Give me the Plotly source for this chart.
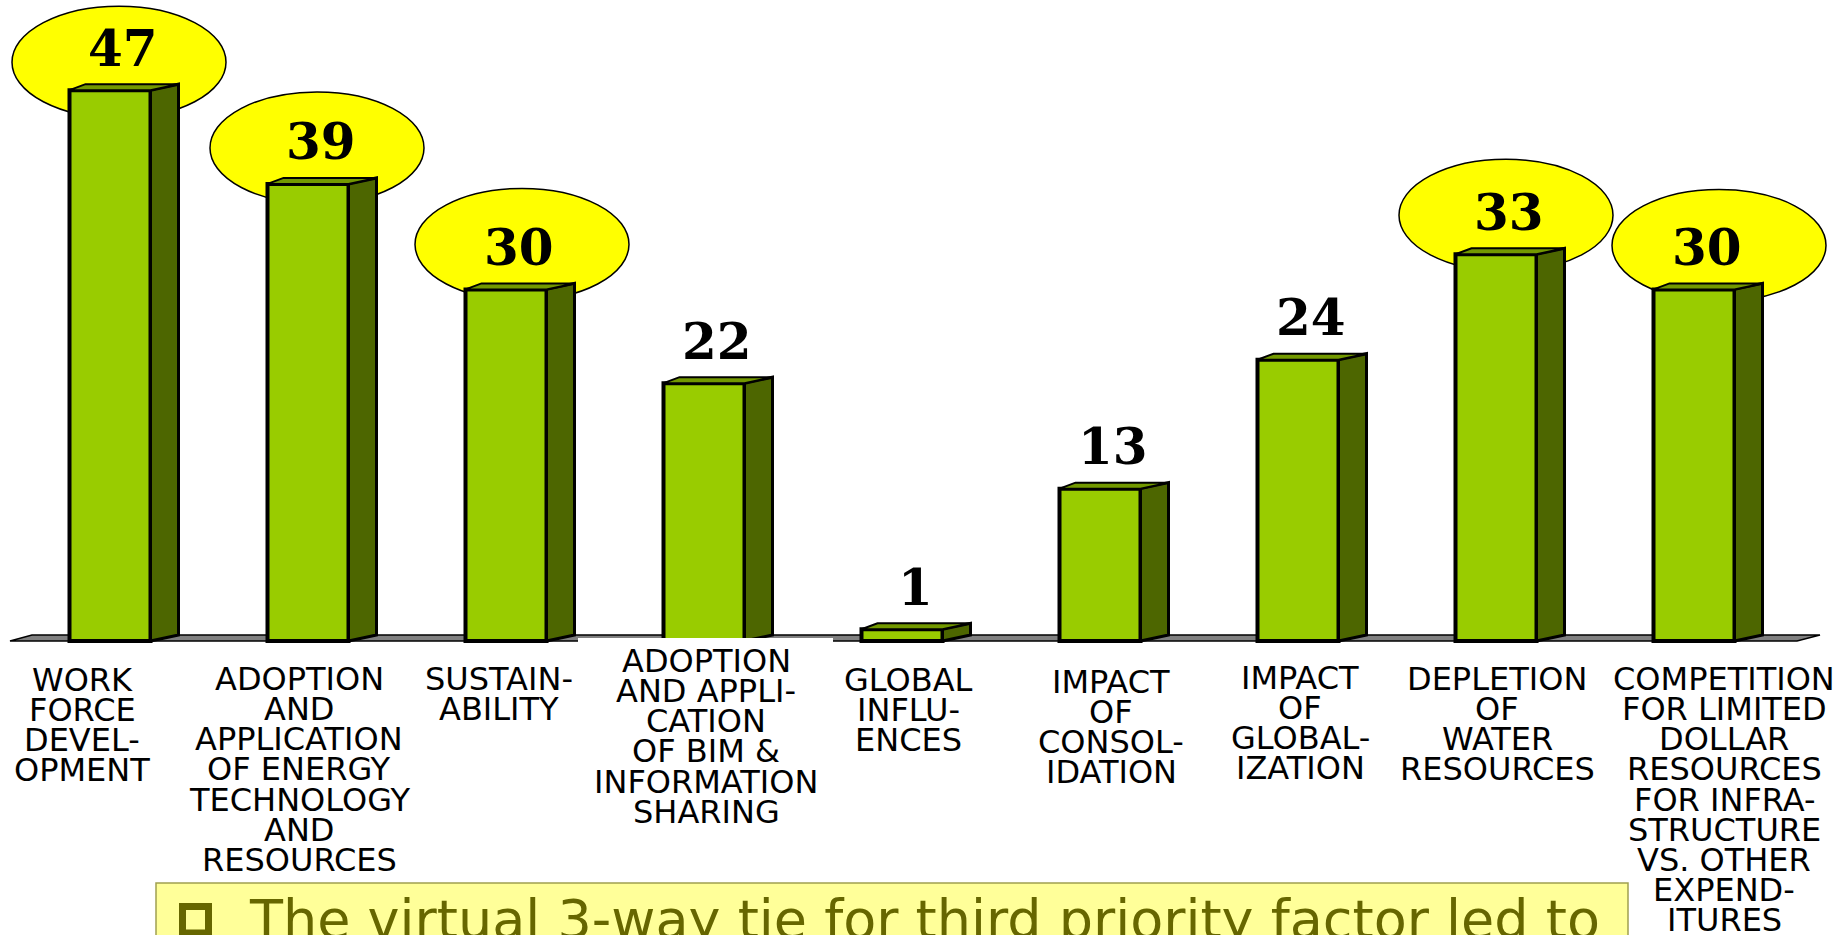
import plotly.graph_objects as go

# ---- data -----------------------------------------------------------------
categories = [
    "WORK\nFORCE\nDEVEL-\nOPMENT",
    "ADOPTION\nAND\nAPPLICATION\nOF ENERGY\nTECHNOLOGY\nAND\nRESOURCES",
    "SUSTAIN-\nABILITY",
    "ADOPTION\nAND APPLI-\nCATION\nOF BIM &\nINFORMATION\nSHARING",
    "GLOBAL\nINFLU-\nENCES",
    "IMPACT\nOF\nCONSOL-\nIDATION",
    "IMPACT\nOF\nGLOBAL-\nIZATION",
    "DEPLETION\nOF\nWATER\nRESOURCES",
    "COMPETITION\nFOR LIMITED\nDOLLAR\nRESOURCES\nFOR INFRA-\nSTRUCTURE\nVS. OTHER\nEXPEND-\nITURES",
]
votes = [47, 39, 30, 22, 1, 13, 24, 33, 30]
circled = [0, 1, 2, 7, 8]          # factors whose count is ringed in yellow
note_text = "The virtual 3-way tie for third priority factor led to"

# ---- geometry (pixels) ------------------------------------------------------
W, H = 1841, 935
X0_PX = 110        # centre of first front face
STEP_PX = 198      # distance between categories
BASE_PX = 641      # floor front edge
UNIT_PX = 11.72    # pixels per vote
FRONT_W = 81       # width of front face
SIDE_DX = 28       # depth of side face
TOP_DX_LEFT = 16   # perspective shift of the top face's back-left corner
DEPTH_DY = 6       # vertical depth of the 3-D bars / floor

FRONT = "#99CC00"
SIDE = "#4D6600"
TOP = "#739900"
OLIVE = "#666600"


def px_x(off):
    return off / STEP_PX


def px_y(off):
    return off / UNIT_PX


def abs_x(px):
    return (px - X0_PX) / STEP_PX


def abs_y(px):
    return (BASE_PX - px) / UNIT_PX


def paper_x(px):
    return px / W


def paper_y(px):
    return 1 - px / H


hw = px_x(FRONT_W) / 2
dxs = px_x(SIDE_DX)
dxl = px_x(TOP_DX_LEFT)
dy = px_y(DEPTH_DY)

fig = go.Figure()

# front faces
fig.add_trace(go.Bar(
    x=list(range(len(votes))), y=votes, width=2 * hw,
    marker=dict(color=FRONT, line=dict(color="black", width=4)),
    hoverinfo="skip",
))

# side and top faces of each bar
for i, v in enumerate(votes):
    xr = i + hw
    fig.add_trace(go.Scatter(
        x=[xr, xr, xr + dxs, xr + dxs, xr],
        y=[0, v, v + dy, dy, 0],
        mode="lines", fill="toself", fillcolor=SIDE,
        line=dict(color="black", width=3), hoverinfo="skip",
    ))
    fig.add_trace(go.Scatter(
        x=[i - hw, xr, xr + dxs, i - hw + dxl, i - hw],
        y=[v, v, v + dy, v + dy, v],
        mode="lines", fill="toself", fillcolor=TOP,
        line=dict(color="black", width=2), hoverinfo="skip",
    ))

shapes = []

# floor slab
fx0, fx1 = abs_x(10), abs_x(1797)
bx0, bx1 = abs_x(32), abs_x(1820)
shapes.append(dict(
    type="path", xref="x", yref="y", layer="below",
    path=f"M {fx0},0 L {fx1},0 L {bx1},{dy} L {bx0},{dy} Z",
    fillcolor="#808080", line=dict(color="black", width=1.5),
))

# yellow rings behind the leading counts
ring_dx = [9, 9, 16, 10, 25]
ring_rise = [28, 36, 45, 39, 44]
RX, RY = 107, 56
for k, i in enumerate(circled):
    cx = i + px_x(ring_dx[k])
    cy = votes[i] + px_y(ring_rise[k])
    shapes.append(dict(
        type="circle", xref="x", yref="y", layer="below",
        x0=cx - px_x(RX), x1=cx + px_x(RX),
        y0=cy - px_y(RY), y1=cy + px_y(RY),
        fillcolor="#FFFF00", line=dict(color="black", width=1.5),
    ))

# white backing of the BIM label over the floor
shapes.append(dict(
    type="rect", xref="paper", yref="paper", layer="above",
    x0=paper_x(578), x1=paper_x(833), y0=paper_y(700), y1=paper_y(638),
    fillcolor="white", line=dict(width=0),
))

# note box at the bottom
shapes.append(dict(
    type="rect", xref="paper", yref="paper", layer="above",
    x0=paper_x(156), x1=paper_x(1628), y0=paper_y(945), y1=paper_y(883),
    fillcolor="#FFFF99", line=dict(color="#A0A050", width=1.5),
))
shapes.append(dict(
    type="rect", xref="paper", yref="paper", layer="above",
    x0=paper_x(182.5), x1=paper_x(208.5), y0=paper_y(933), y1=paper_y(906.5),
    fillcolor="#FFFF99", line=dict(color=OLIVE, width=7),
))

annotations = []

# value labels
for i, v in enumerate(votes):
    annotations.append(dict(
        x=i + px_x(13), y=v + px_y(42), xref="x", yref="y",
        text=str(v), showarrow=False, xanchor="center", yanchor="middle",
        font=dict(family="DejaVu Serif", size=50, color="black", weight="bold"),
    ))

# category labels, one line per annotation for tight leading
label_dx = [-28, -9, -7, 2, 6, 11, 2, 1, 30]
label_top = [668, 667, 667, 649, 668, 670, 666, 667, 667]
LINE_PX = 30.2
for i, cat in enumerate(categories):
    for k, line in enumerate(cat.split("\n")):
        annotations.append(dict(
            x=i + px_x(label_dx[i]), xref="x",
            y=paper_y(label_top[i] + 11.7 + LINE_PX * k), yref="paper",
            text=line.replace("&", "&amp;"), showarrow=False,
            xanchor="center", yanchor="middle",
            font=dict(family="DejaVu Sans", size=32, color="black"),
        ))

# note text
annotations.append(dict(
    x=paper_x(247), y=paper_y(919), xref="paper", yref="paper",
    text=note_text, showarrow=False, xanchor="left", yanchor="middle",
    font=dict(family="DejaVu Sans", size=54, color=OLIVE),
))

fig.update_layout(
    width=W, height=H,
    margin=dict(l=0, r=0, t=0, b=0, pad=0),
    paper_bgcolor="white", plot_bgcolor="white",
    showlegend=False,
    xaxis=dict(range=[abs_x(0), abs_x(W)], visible=False, fixedrange=True),
    yaxis=dict(range=[abs_y(H), abs_y(0)], visible=False, fixedrange=True),
    shapes=shapes, annotations=annotations,
)

fig.write_html("out.html", config={"displayModeBar": False})
